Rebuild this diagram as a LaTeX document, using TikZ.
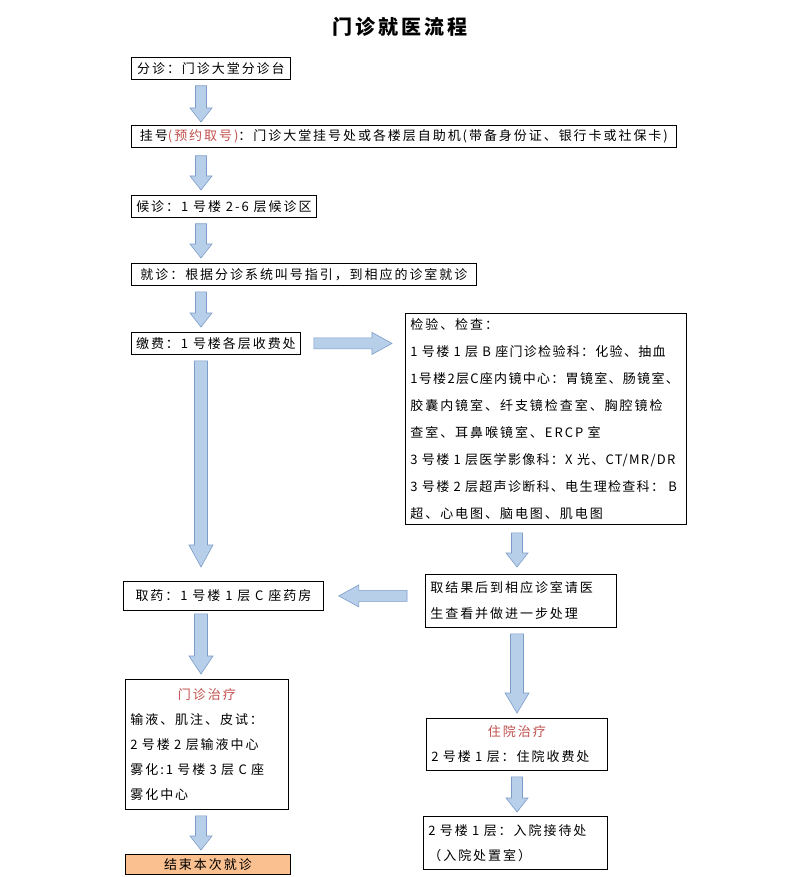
\documentclass[tikz,border=0pt]{standalone}
\usepackage{fontspec}
\setmainfont{Noto Sans CJK SC}[LetterSpace=15]
\newfontfamily\tightfont{Noto Sans CJK SC}[LetterSpace=10]
\usetikzlibrary{calc,positioning}

\definecolor{arrowfill}{HTML}{B8CFEA}
\definecolor{arrowline}{HTML}{7C9DCA}
\definecolor{notered}{HTML}{C0504D}
\definecolor{endfill}{HTML}{FAC08F}

\tikzset{
  flow shaft/.store in=\flowshaft, flow head/.store in=\flowhead,
  flow len/.store in=\flowlen,
  flow gap a/.store in=\flowgapa, flow gap b/.store in=\flowgapb,
  flow shaft=5.5pt, flow head=11pt, flow len=14pt, flow gap a=6pt, flow gap b=5pt,
  % block arrow between two points
  flowarrow/.style={fill=arrowfill, draw=arrowline, line width=0.6pt,
    to path={
      ($(\tikztostart)!\flowgapa!(\tikztotarget)$) coordinate (fa)
      ($(\tikztotarget)!\flowgapb!(\tikztostart)$) coordinate (fb)
      ($(fa)!\flowshaft!90:(fb)$)
      -- ($(fb)!\flowlen!(fa)!\flowshaft!-90:(fa)$)
      -- ($(fb)!\flowlen!(fa)!\flowhead!-90:(fa)$)
      -- (fb)
      -- ($(fb)!\flowlen!(fa)!\flowhead!90:(fa)$)
      -- ($(fb)!\flowlen!(fa)!\flowshaft!90:(fa)$)
      -- ($(fa)!\flowshaft!-90:(fb)$)
      -- cycle}},
  stepbox/.style={draw=black, line width=0.8pt, inner sep=2pt, minimum height=22pt,
    anchor=north west, font=\fontsize{13}{16}\selectfont},
  infobox/.style={draw=black, line width=0.8pt, anchor=north west, align=left,
    inner xsep=5pt, inner ysep=3pt, font=\fontsize{13}{25}\selectfont},
  redhead/.style={text=notered}
}

\begin{document}
\begin{tikzpicture}[x=1pt,y=-1pt]
  \useasboundingbox[fill=white] (0,0) rectangle (796,877);

  % title
  \node[font=\fontsize{20}{24}\selectfont\bfseries] (title) at (400,27) {门诊就医流程};

  % left column
  \node[stepbox, minimum width=159pt] (fz) at (131,57) {分诊：门诊大堂分诊台};
  \node[stepbox, minimum width=545pt] (gh) at (131,125)
    {挂号{\color{notered}(预约取号)}：门诊大堂挂号处或各楼层自助机(带备身份证、银行卡或社保卡)};
  \node[stepbox, minimum width=185pt] (hz) at (131,195) {候诊：1 号楼 2-6 层候诊区};
  \node[stepbox, minimum width=345pt] (jz) at (131,263) {就诊：根据分诊系统叫号指引，到相应的诊室就诊};
  \node[stepbox, minimum width=169pt] (jf) at (131,332) {缴费：1 号楼各层收费处};

  % examinations
  \node[infobox, text width=271pt, minimum height=211pt, font=\fontsize{13}{27}\selectfont] (jc) at (405,313) {%
    检验、检查：\\
    {\tightfont 1~号楼~1~层~B~座门诊检验科：化验、抽血}\\
    {\tightfont 1号楼2层C座内镜中心：胃镜室、肠镜室、}\\
    胶囊内镜室、纤支镜检查室、胸腔镜检\\
    查室、耳鼻喉镜室、ERCP~室\\
    {\tightfont 3~号楼~1~层医学影像科：X~光、CT/MR/DR}\\
    {\tightfont 3~号楼~2~层超声诊断科、电生理检查科：~B}\\
    超、心电图、脑电图、肌电图};

  \node[stepbox, minimum width=200pt, minimum height=29pt] (qy) at (123,581) {取药：1 号楼 1 层 C 座药房};
  \node[infobox, text width=181pt, minimum height=53pt, font=\fontsize{13}{26}\selectfont] (qjg) at (425,574)
    {取结果后到相应诊室请医\\生查看并做进一步处理};

  % treatment
  \node[infobox, text width=153pt, minimum height=130pt] (mzzl) at (125,679) {%
    \makebox[\linewidth]{\color{notered}门诊治疗}\\
    输液、肌注、皮试：\\
    2~号楼~2~层输液中心\\
    雾化:1~号楼~3~层~C~座\\
    雾化中心};
  \node[infobox, text width=171pt, minimum height=52pt] (zyzl) at (426,718) {%
    \makebox[\linewidth]{\color{notered}住院治疗}\\
    2~号楼~1~层：住院收费处};
  \node[infobox, text width=174pt, minimum height=53pt] (ry) at (423,816)
    {2~号楼~1~层：入院接待处\\（入院处置室）};
  \node[stepbox, fill=endfill, minimum width=165pt, minimum height=20pt] (js) at (125,854) {结束本次就诊};

  % arrow columns
  \coordinate (colA) at (201,0);
  \coordinate (colB) at (517,0);

  % arrows
  \path[flowarrow, flow gap b=3pt] (fz.south -| colA) to (gh.north -| colA);
  \path[flowarrow, flow gap a=8pt] (gh.south -| colA) to (hz.north -| colA);
  \path[flowarrow] (hz.south -| colA) to (jz.north -| colA);
  \path[flowarrow] (jz.south -| colA) to (jf.north -| colA);
  \path[flowarrow, flow gap a=13pt, flow gap b=13pt, flow len=20pt] (jf.east) to (jc.west |- jf.east);
  \path[flowarrow, flow gap b=14pt, flow shaft=6.5pt, flow head=12pt, flow len=22pt] (jf.south -| colA) to (qy.north -| colA);
  \path[flowarrow, flow gap a=8pt, flow gap b=7pt] (jc.south -| colB) to (qjg.north -| colB);
  \path[flowarrow, flow gap a=18pt, flow gap b=15pt, flow len=20pt] (qjg.west |- qy.east) to (qy.east);
  \path[flowarrow, flow gap a=3pt, flow shaft=6.5pt, flow head=12pt, flow len=18pt] (qy.south -| colA) to (mzzl.north -| colA);
  \path[flowarrow, flow shaft=6.5pt, flow head=12pt, flow len=20pt] (qjg.south -| colB) to (zyzl.north -| colB);
  \path[flowarrow, flow gap b=4pt] (zyzl.south -| colB) to (ry.north -| colB);
  \path[flowarrow, flow gap b=4pt] (mzzl.south -| colA) to (js.north -| colA);
\end{tikzpicture}
\end{document}
